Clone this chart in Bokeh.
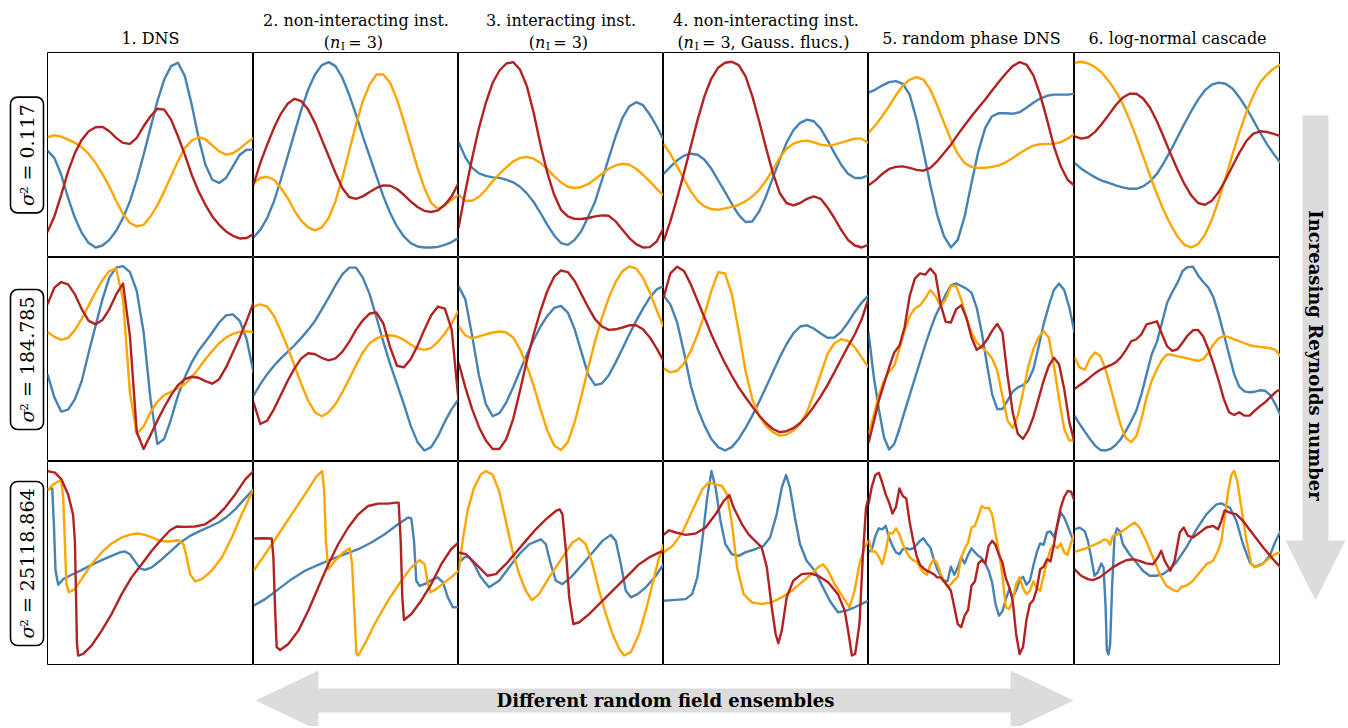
import numpy as np
from bokeh.plotting import figure
from bokeh.layouts import row, column
from bokeh.models import Range1d, BoxAnnotation
from bokeh.embed import file_html
from bokeh.resources import INLINE
from bokeh.core.properties import value

# ---------------- data (signal value in each panel, 0..100 scale) ----------------
# Row 1: sigma^2 = 0.117 (31 evenly spaced samples)
r1c1_b = [53.3,49.7,41.3,29.7,19.7,12.2,7.2,5,6,8.8,13.3,19.7,28,38.8,51.3,64.7,78,88.8,95.5,97.2,90.5,76.3,59.7,46.3,38.8,37.2,39.7,45.5,51.3,53.8,53.8]
r1c1_o = [60,61,60.3,58.8,57.2,55,51.7,47.2,41.7,35.5,28.3,21.7,17.2,15.5,16.3,20.5,26,33,40.5,48,54.7,58.3,60,59,56,53,51.3,52,54.3,57.2,59.7]
r1c1_r = [12.7,20.5,31.3,43,52.2,58.8,63,65,65.2,63,59.7,57.2,56.7,59.7,65.5,70.5,74.2,73.8,68.8,60.5,51.3,41.3,33,26.3,20.5,16.3,13,10.8,9.5,9.7,11.7]
r1c2_b = [10,13.8,19.7,28,38.8,50.5,62.2,73.8,83.8,91.3,96,97.5,95.5,89.7,81.3,71.3,60.5,50.5,40.5,30.5,22.2,15.5,10.5,7.2,5.5,5,5,5.3,6.3,7.7,9.7]
r1c2_o = [37.2,39.7,40.3,38.8,34.7,29.7,23.3,18.3,15,13.5,15,19.7,28,39.7,53,66.3,78,86.3,91.3,91.3,87.2,78.8,68,56.3,44.7,34.7,27.2,24.3,26,28.8,31.3]
r1c2_r = [36.3,47.2,56.3,64.7,71.7,76.7,79.2,78,73.8,67.2,58.8,50.5,42.2,34.7,30.2,29.3,30.5,32.7,34.7,36,35.8,34.2,31.3,28,25.2,23.3,22.7,23.5,26.3,30.5,37.2]
r1c3_b = [57.7,50,44.7,42,40.7,40,39.7,38.8,37.5,35.3,32,27.7,22.2,16.3,11,7.2,6.3,8.8,13.3,20.5,28,38.8,49.7,60.5,69.7,75.5,77.5,76,71.3,65.5,58.8]
r1c3_o = [31.3,28.3,28.3,30.3,33.8,38,41.7,45,48,49.7,50.2,49.3,47.2,44.3,40.5,37.5,35.3,34.7,35.2,36.7,39.2,41.8,44.3,46,46.8,46.3,44.3,41.3,38,34.3,31]
r1c3_r = [14.7,33,49.7,64.7,77.2,87.2,93.3,96.8,97.5,93.8,85.5,72.2,56.3,42.2,31.3,23.8,20.5,19.3,19.2,19.7,20.5,21,20.8,18,13.8,9.7,6.7,5,5.2,8,14.7]
r1c4_b = [41.7,45.2,48.5,50.8,51.8,51.3,48.8,44.3,38.5,32.7,26.7,21.3,17.7,18,23,30.5,39.7,48.8,57.2,63.5,67.2,68.8,68,64.3,58.5,52.2,46.3,41.8,39.7,39.7,41]
r1c4_o = [56.7,51.7,45.5,39.2,33,28.3,25.5,24.2,23.8,24.5,25.3,26.3,28,30.5,33.8,38.3,43.8,49.7,54.3,56.8,58,58.3,57.5,56.3,55.8,56.3,57.3,58.3,59.3,59.3,57.2]
r1c4_r = [8,18,29.7,42.2,55.5,68.8,80.5,89.3,94.7,97.2,97.7,96,90.5,80.5,68,54.7,42.2,32.2,27.2,26,27.2,29.3,30.5,29.3,25,19.7,13.8,8.8,6,5,6.3]
r1c5_b = [82.2,83.8,85.8,87.5,88,86.7,81.3,68.8,53,36.3,21.3,10.5,5,8.8,20.5,37.2,53,64.7,70.5,72,72,71.7,72.5,74.7,77.2,79.3,80.7,81.3,81.3,81.3,81.7]
r1c5_o = [62.2,66,70.5,75.5,81,85.8,88.8,90,88.8,83.8,76,67.2,58.8,51.7,47.2,45.2,44.7,44.8,45.2,46,47.5,49.7,52,54,55.8,56.5,56.7,56.8,57.5,59.3,61.7]
r1c5_r = [36,38.5,41.7,44.2,45.2,45.5,44.7,43.7,43.3,44.7,48,52.2,56.3,61.3,66,70.5,74.7,78.8,83.3,87.7,91.8,95.5,97.5,96.3,91,81.3,68.8,55.5,45.5,38.8,35.8]
r1c6_b = [47.2,44.3,42,40,38.3,37.2,36,35,34.3,34.3,35.5,38,41.7,47.2,53.3,60,66.7,73,78.8,83.5,86.3,87.3,86.7,84.3,80,74.7,68.8,62.5,56.7,51.7,47.2]
r1c6_o = [97.2,97.7,96.8,95,92.2,88,83,76.7,68.8,60,50.5,40.8,31.7,23.3,16.3,10.5,6.3,5,6.7,11.3,18.8,28.8,39.7,51.3,62.2,72.2,80.5,87.2,91.3,94.3,96.3]
r1c6_r = [60.5,59.3,60,62.7,66.7,71.3,76,79.7,81.7,81.7,79.3,74.7,68,60,51.7,43.8,36.7,31,27.2,26.3,28.3,32.7,38.8,45.5,52.2,58,61.7,63,62.7,61.7,60.5]

# Row 2: sigma^2 = 184.785
r2c1_b = [43.8,32.2,25,26,31.3,40.5,54.7,68,81.3,92.2,97.2,98,95,85.5,64.7,31.3,8.8,11.3,21.3,33,42.2,49.7,55.5,60,64.7,69.7,73.3,73.8,70.5,61.3,44.7]
r2c1_o = [65,62.5,61,62,66,71.7,78.3,85,91,95.5,96.7,81.3,34.7,13.8,17.7,24.7,30,33.3,35,36.7,38.8,42.2,46.7,51.3,55.5,59.3,62.2,64,65,65.3,64.7]
r2c1_r = [78.8,87.2,90,88.8,83.8,76.3,70.5,68.8,71,76.3,83.8,89.2,63,14.7,6.3,13.3,20.5,27.2,33.3,38.3,41.3,42.5,42,40.3,39,41.3,47.2,54.7,62.2,70.5,79.7]
r2c2_b = [33,38.8,43.8,48,51.7,55,58.3,62,66,70.5,76.3,82.2,88.3,93.8,97.2,97.2,92.2,83.8,72.2,60,48.8,38.8,28.8,18,9.7,5.5,7.2,12.7,20,26.3,31.3]
r2c2_o = [77.7,78.8,77.7,73,65.5,57.2,48,38.8,30.5,24.7,22.7,24.7,28.8,34.7,41.3,48.3,54.7,59.3,61.7,63,63.3,62.7,61,58.7,56.7,56,57,60,64.2,69.3,75.5]
r2c2_r = [29.7,18.8,20.5,26.3,33.3,40.5,46.7,51.7,54.3,53.8,52,50.7,51.7,55,60,66,70.8,74.2,74.7,69.2,57.2,48,47.2,51.3,58,66,73.3,77.7,76.7,66.3,30.5]
r2c3_b = [88,81.3,63,43,28.8,22.7,24.3,29.7,37.2,45.5,53.5,61,67.7,73,77,78,74.7,66.3,54.7,43.3,38.3,39.2,43.3,49.7,56.7,63.8,70.5,76.7,82.2,86.3,88]
r2c3_o = [67.7,63.3,61.7,62.7,63.8,64.7,65.2,64.7,62.2,56.3,48,38,26.3,15.5,8,5.8,9.7,19.7,33,47.2,60.5,72.2,82.2,90,95.5,97.8,96.7,92.2,84.7,76,67.7]
r2c3_r = [49.7,37.2,26.3,17.2,10.5,6.3,6.3,11.3,21.3,35.5,50.5,63.8,75.5,85.5,92.7,95.8,95,90.5,83.8,77.2,71.3,67.7,66,66.3,67.2,68.3,68.3,66.3,62.2,56.7,50.5]
r2c4_b = [83.3,78.8,69.7,54.7,38,26.3,18,11.3,7.2,5.5,7.2,11.3,16.7,23,30,37.2,44.7,52.2,58.8,64.3,67.7,68.3,66.7,64.2,62,62.2,65,69.7,75,79.7,83.3]
r2c4_o = [46.7,44.7,45.5,49.3,55.5,63.8,73.8,85.5,95,94.3,83.8,65.5,45.5,31.3,23,17.7,14.7,13,13.5,15.5,18.8,25,33.8,43.8,53.8,59.3,61.3,60.5,57.2,52.2,47.2]
r2c4_r = [82.2,94.3,97.7,95.5,88.8,80.5,72.2,63.8,56.3,49.3,43,37.2,32.2,27.5,23,19.3,16.3,14.7,15.2,16.7,19.3,23,27.5,32.7,38.3,44.7,51.3,57.7,63.8,71.3,81.7]
r2c5_b = [64.7,43,26.3,12.2,6,8.8,16.3,25,33.3,41.7,50,58.3,66,73,78.3,83.8,88.3,89.3,88,86.7,84.7,77.2,64.7,48.8,33.8,26.3,26.3,30.5,35,37.2,38.3,40.5,46.3,57.2,68.8,78,86,89.2,86,77.2,64.7]
r2c5_o = [13.8,23,33,40.5,45,48,56.3,65.5,73,76.7,78.3,81.7,86,83,78,81.3,88,88,81.3,72.2,64.7,59.7,57.2,55,51.7,45.5,33,20.5,16.7,23,34.7,47.2,56.3,62.2,65.5,62.2,48,31.3,16.3,10.5,10.5]
r2c5_r = [9.3,19.7,30.5,38.8,47.2,54.7,58,67.2,83,91.7,94.3,93.7,96.8,93.8,78.8,70,69.7,76.3,78.3,72.2,62.2,56,57.7,61,65.5,69,64.7,43,24.7,13.8,11.3,15.5,22.2,31.3,40.5,48,52,48.8,36.3,19.7,9.7]
r2c6_b = [23,18.8,15,11.3,8,5.8,5.5,6.3,8.3,11.3,15.5,20.2,25.5,33.8,43.8,53.8,60,69.7,79.7,85,89.7,95.5,97.5,97.7,93.3,90,87.2,82.2,73.8,63.8,53.8,43.8,37.5,35.2,34.7,35,35.7,35.5,33.3,28.8,23]
r2c6_o = [52.2,47.2,46,51.7,54.7,53,46.3,37.2,27.2,18,11.7,9.7,12.7,21.3,32.2,40.5,46.3,51,53.7,53.5,52.7,52.2,51.7,51,50.5,51.3,54.7,58.8,61.8,63,62.2,61.3,60.3,59.3,58.3,57.8,57.5,57.2,56.8,56,52.7]
r2c6_r = [36.3,38.3,40,42.2,44.3,46,47.2,48.3,49.7,52.2,56,60.3,61.3,63.8,68.8,69.5,70.3,63.8,57.7,55.5,56.3,59.7,63.3,65.8,66,62.7,56.3,48.8,40.5,31.3,24.7,23.3,24.7,23,23,25.5,27.7,29.7,32.2,34.7,36.3]

# Row 3: sigma^2 = 25118.864 (explicit sample positions where the field is shock-like)
r3c1_b_x = [0,2.3,3.1,3.9,5.2,7.6,11.7,16.5,21.4,26.3,31.1,35.2,37.6,40,42.5,44.9,47.3,50.6,54.6,59.5,64.3,69.2,74.1,78.9,83,87,91.1,95.9,100]
r3c1_b = [88.3,88.8,70.8,47.5,40.5,43.3,45.5,47.8,50.5,52.8,55,56.7,57.2,55.8,52.2,48.7,48,49.2,52.5,57,61.5,65,67.5,69.7,71.7,74.5,78.3,83.8,88.3]
r3c1_o_x = [0,2.8,5.5,6.8,7.6,8.4,9.2,10.4,13.3,16.5,21.4,26.3,31.1,36,40.8,44.1,47.3,50.6,54.6,58.7,63.5,66,67.6,69.2,71.6,74.9,79.7,84.6,89.5,94.3,98.4,100]
r3c1_o = [87.8,90.8,92.5,92.2,84.2,62.5,40.8,36.7,38.3,43.3,50.8,56.7,61.2,64.2,65.8,66.2,65.5,64.2,62.5,62.2,62.8,60.8,54.2,45.8,42.2,43.3,47.5,54.2,64.2,75.8,85,88.3]
r3c1_r_x = [0,3.6,6.8,10,12.4,13.3,13.8,14.3,14.9,17.3,21.4,26.3,31.1,36,40.8,45.7,50.6,55.4,59.5,62.7,66.8,71.6,76.5,81.4,86.2,91.1,96,100]
r3c1_r = [97.5,96.7,93.3,85.8,75.8,62.5,37.5,10.8,5,5.8,10,17.5,25.8,35.8,44.2,50.8,57.5,63.3,67.8,69.7,69.5,69.7,70.8,74.2,79.2,85.8,93.3,97.5]
r3c2_b_x = [0,5.7,12.2,18.6,25.1,31.6,38.1,44.6,51.1,57.5,64,70.5,75.4,77,78.3,79.4,81,83.5,86.7,89.9,92.4,94.8,97.2,100]
r3c2_b = [30,33.3,38.3,43.3,47.5,50.5,53.3,55.8,58.3,61.7,65.8,70.8,74.2,73.8,62.5,42.5,40,40.8,42.8,44.2,41.7,34.2,29.2,29.2]
r3c2_o_x = [0,5.7,12.2,18.6,25.1,30.8,33.5,34.5,35.3,36.5,39.7,43.8,47,48.1,49.1,50.2,51.1,54.3,59.1,65.6,72.1,77,81,83.5,85.1,86.4,89.1,93.2,96.4,100]
r3c2_o = [47.5,55.8,65.8,75.8,85.8,95,97.5,87.5,62.5,48.3,52.5,56.7,58.8,50.8,29.2,5.8,5,10.8,20.8,32.5,42.5,49.2,52.8,50.8,40.8,36.7,38.3,41.7,44.2,47.5]
r3c2_r_x = [0,4.1,8.9,9.7,10.5,11.3,13,17,21.9,26.7,31.6,36.5,41.3,46.2,51.1,55.9,60.8,65.6,69.7,70.8,71.8,72.6,73.4,77,81.8,86.7,91.6,96.4,100]
r3c2_r = [63.7,63.8,63.7,54.2,29.2,9.2,7.8,10.8,17.5,27.5,39.2,50.8,60.8,69.2,75.8,80,81.2,81.2,81.7,81.7,62.5,34.2,22.8,25.8,32.5,40.8,50.8,58.3,61.7]
r3c3_b_x = [0,2.8,5.2,7.6,10.9,14.9,19.8,24.7,29.6,34.5,40.2,42.6,45,47.5,50.7,54.8,60.5,65.4,70.2,74.3,76.7,79.2,81.6,84.1,87.3,91.4,96.3,100]
r3c3_b = [51.2,54.2,54.5,50.8,44.2,39.2,42.5,49.2,55.8,60.8,63.3,60.8,50.8,42.5,40.8,44.2,50.8,56.7,62.5,65.5,62.5,50.8,37.5,34.2,35.8,39.2,45,50.8]
r3c3_o_x = [0,2,4.4,7.6,10.9,13.3,16.6,19.8,23.1,26.3,29.6,32.8,35.8,39.3,44.2,50.7,55.6,58.9,62.1,65.4,68.6,71.9,75.1,78.4,80.8,84.1,88.1,92.2,95.4,97.9,100]
r3c3_o = [46.7,62.5,77.5,89.2,95.8,97.5,95.8,87.5,72.5,57.5,45.8,37.5,32.8,35.8,44.2,54.2,61.7,63.8,60.8,50.8,37.5,25.8,15.8,8.3,5,6.7,15.8,30.8,44.2,54.2,60.8]
r3c3_r_x = [0,3.6,8.5,14.1,18.2,23.1,28,32.8,37.7,42.6,47.5,49.4,50.7,52.4,54,56,58.9,63.7,68.6,73.5,78.4,83.3,88.1,93,97.9,100]
r3c3_r = [56.7,55.8,50.8,45,45.8,50.8,56.7,62.5,68.3,73.3,77.5,78.3,75.8,57.5,34.2,20.8,21.7,25.8,30.8,35.8,40.8,45.8,50.8,54.2,56.7,57.2]
r3c4_b_x = [0,4.4,10.8,14,16.5,18.9,21.3,23.4,25.4,27.8,30.2,33.4,36.7,39.9,44.7,48.8,52,55.2,57.7,59.8,61.7,64.1,66.6,69.8,73.8,77,81.1,85.1,89.2,93.2,96.4,100]
r3c4_b = [32.5,32.8,33.3,35.8,44.2,62.5,84.2,97.5,89.2,72.5,60.8,55.8,55,56.7,58.3,60,64.2,75.8,89.2,95.5,89.2,74.2,60.8,52.5,47.5,40.8,32.5,26.7,27.5,29.2,30.8,32.5]
r3c4_o_x = [0,4.4,9.2,14,18.9,22.1,25.4,28.6,31,33.4,35.9,39.1,43.1,47.9,52.8,57.7,62.5,67.4,72.2,75.4,77.9,80.3,83.5,87.6,90.8,93.2,95.6,98.1,100]
r3c4_o = [56.7,60,66.7,77.5,88.3,91.7,90.8,90,85.8,70.8,49.2,35.8,31.7,30.8,31.7,34.2,37.5,41.7,45.8,49.2,50.8,47.5,40.8,34.2,29.2,37.5,50.8,59.2,62.5]
r3c4_r_x = [0,2.7,6,10.8,15.7,20.5,25.4,29.4,32.1,34.2,38.3,41.5,44.7,47.9,50.4,52.8,54.7,56,57.7,60.1,63.3,67.4,71.4,75.4,80.3,85.1,88.4,90.3,91.9,93.5,95.6,97.2,98.8,100]
r3c4_r = [65.5,67.8,66.7,65.5,66.2,69.2,75.8,82.5,85.5,79.2,70.8,65.8,62.5,59.2,49.2,29.2,15.8,11.2,17.5,34.2,42.5,45.8,46.2,45,41.7,35.8,27.5,15.8,5,5.8,20.8,54.2,79.2,84.2]
r3c5_b = [56.7,58.3,65,68.8,68.3,70,64.2,60,56.7,55.8,58.3,58.8,58.2,58.8,60.5,62.5,63.8,61.2,59.2,53.3,48.3,45,42.5,42.2,49.5,45.5,49.2,54.2,51.2,55.5,58.8,56.7,55,53.8,51.2,47.5,41.7,30.8,25,27.2,33.3,38.3,34.5,37.5,42.8,44.5,40.5,42.5,50,56.7,61.2,60.5,66.7,67.2,64.5,70,76.7,74.2,70,65.5,61.2]
r3c5_o = [63.3,57.2,57.2,54.5,50.8,57.2,66.5,66.2,68.8,65.8,60.8,57.2,54.2,52.8,52.2,49.2,46.7,45.5,50.5,53.3,51.2,46.2,42.2,39.5,40.8,42.8,44.5,54.2,58.3,61.7,69.2,70,75,80,78.8,79.2,75.8,66.2,56.7,45,29.2,28.3,32.5,40.8,44.2,38.8,35.8,37.5,42.2,38.8,37.5,45,52.5,58.3,60.5,58.8,61.2,56.7,55.5,61.7,65.8]
r3c5_r = [80.8,90,95.5,96.7,91.7,85.8,81.7,76.2,79.5,88.8,85,83.8,71.7,62.8,55,50.5,48.8,47.5,46.8,45.8,44.2,44.2,42.2,40,37.5,29.2,20.8,19.2,25,27.8,40,42.2,51.2,52.8,51.2,60,62.5,60.5,55.5,51.7,43.8,39.2,32.5,15.8,5.8,9.2,22.8,30.8,32.8,38.3,48.3,49.5,53.3,52.2,60.5,70.8,79.2,84.5,87.5,87.2,82.5]
r3c6_b_x = [0,2.4,4.9,6.5,8.1,9.7,11.3,13,14.1,15.1,15.7,16.5,17.3,18.3,19.4,20.6,21.9,23.5,26.7,30,33.2,36.5,39.7,42.9,46.2,49.4,54.3,59.2,64,68.9,71.3,75.4,78.6,81.8,85.1,87.5,91.6,94.8,97.3,100]
r3c6_b = [68.3,69.2,67.5,62.5,54.2,45,46.7,51.2,49.2,29.2,7.5,5.5,10.8,40.8,64.2,68.8,67.5,60.8,55.8,51.7,47.5,45,45,45.8,48.3,51.7,59.2,68.3,75.8,80.8,81.3,79.2,72.5,60.8,51.7,49.5,51.2,55,61.7,67.5]
r3c6_o_x = [0,5.7,12.2,14.6,16.2,17.3,18.6,20.3,23.5,26.7,29.2,31.6,34.8,38.1,41.3,44.6,47.8,50.2,51.9,54.3,57.5,60.8,64,67.3,69.7,71.3,72.9,74.6,76.2,77.5,79,81,83.5,85.9,87.5,90.8,94,97.2,100]
r3c6_o = [57,58.8,61.7,63.3,62.5,60.5,65,65.5,67.5,70,71.7,69.2,62.5,54.2,45.8,40,37.8,37.2,39.5,40,42.5,46.7,50.8,52.5,57.5,62.5,74.2,87.5,95.8,97.5,92.5,79.2,62.5,50.8,49.2,50.5,53.3,55.8,56.7]
r3c6_r_x = [0,3.2,6.5,8.9,12.2,15.4,18.6,21.9,25.1,28.4,31.6,34.8,38.1,40.5,42.1,43.8,46.5,48.6,51.1,53,55.1,57.5,60.8,64,67.3,69.7,71.3,72.9,75.4,78.6,81.8,86.7,91.6,96.4,100]
r3c6_r = [48.3,45,43.3,42.8,44.2,46.7,49.2,51.2,52.8,53.3,52.5,51.2,50.8,54.2,57.5,52.5,47.5,52.5,66.7,69.2,65,64.2,66.7,69.2,70,68.3,72.5,77.8,76.7,75.8,72.5,65.8,59.2,53.3,49.2]

titles = ["1. DNS", "2. non-interacting inst.", "3. interacting inst.",
          "4. non-interacting inst.", "5. random phase DNS", "6. log-normal cascade"]
subtitle_tails = [None, " = 3)", " = 3)", " = 3, Gauss. flucs.)", None, None]
sigma_values = ["0.117", "184.785", "25118.864"]
right_label = "Increasing Reynolds number"
bottom_label = "Different random field ensembles"

# ---------------- styling / layout ----------------
SERIF = value("DejaVu Serif")
COLORS = ["#4682b4", "#ffa500", "#b22222"]
COL_W = [206, 205, 205, 205, 206, 206]
ROW_H = [205, 204, 204]
GRID_X0, GRID_Y0 = 47, 52
PAGE_W, PAGE_H = 1346, 726
ARROW = "#dcdcdc"

PANELS = [
    [[(None, r1c1_b), (None, r1c1_o), (None, r1c1_r)],
     [(None, r1c2_b), (None, r1c2_o), (None, r1c2_r)],
     [(None, r1c3_b), (None, r1c3_o), (None, r1c3_r)],
     [(None, r1c4_b), (None, r1c4_o), (None, r1c4_r)],
     [(None, r1c5_b), (None, r1c5_o), (None, r1c5_r)],
     [(None, r1c6_b), (None, r1c6_o), (None, r1c6_r)]],
    [[(None, r2c1_b), (None, r2c1_o), (None, r2c1_r)],
     [(None, r2c2_b), (None, r2c2_o), (None, r2c2_r)],
     [(None, r2c3_b), (None, r2c3_o), (None, r2c3_r)],
     [(None, r2c4_b), (None, r2c4_o), (None, r2c4_r)],
     [(None, r2c5_b), (None, r2c5_o), (None, r2c5_r)],
     [(None, r2c6_b), (None, r2c6_o), (None, r2c6_r)]],
    [[(r3c1_b_x, r3c1_b), (r3c1_o_x, r3c1_o), (r3c1_r_x, r3c1_r)],
     [(r3c2_b_x, r3c2_b), (r3c2_o_x, r3c2_o), (r3c2_r_x, r3c2_r)],
     [(r3c3_b_x, r3c3_b), (r3c3_o_x, r3c3_o), (r3c3_r_x, r3c3_r)],
     [(r3c4_b_x, r3c4_b), (r3c4_o_x, r3c4_o), (r3c4_r_x, r3c4_r)],
     [(None, r3c5_b), (None, r3c5_o), (None, r3c5_r)],
     [(r3c6_b_x, r3c6_b), (r3c6_o_x, r3c6_o), (r3c6_r_x, r3c6_r)]],
]


def panel(w, h, curves):
    p = figure(width=w, height=h, x_range=Range1d(0, 100), y_range=Range1d(0, 102.3),
               toolbar_location=None, output_backend="svg", x_axis_type=None,
               y_axis_type=None, min_border=0)
    p.outline_line_color = "black"
    p.outline_line_width = 1
    p.background_fill_color = "white"
    p.border_fill_color = "white"
    for (xs, ys), col in zip(curves, COLORS):
        if xs is None:
            xs = np.linspace(0, 100, len(ys))
        p.line(xs, ys, line_color=col, line_width=2.4, line_join="round")
    return p


def deco(w, h, x0, x1, ytop, ybot):
    p = figure(width=w, height=h, x_range=Range1d(x0, x1), y_range=Range1d(ybot, ytop),
               toolbar_location=None, output_backend="svg", x_axis_type=None,
               y_axis_type=None, min_border=0)
    p.outline_line_color = None
    p.background_fill_color = "white"
    p.border_fill_color = "white"
    return p


col_edges = np.concatenate([[GRID_X0], GRID_X0 + np.cumsum(COL_W)])
row_edges = np.concatenate([[GRID_Y0], GRID_Y0 + np.cumsum(ROW_H)])
col_centers = (col_edges[:-1] + col_edges[1:]) / 2
row_centers = (row_edges[:-1] + row_edges[1:]) / 2
grid_right = int(col_edges[-1])
grid_bottom = int(row_edges[-1])

# ---- top titles ----
top = deco(PAGE_W, GRID_Y0, 0, PAGE_W, 0, GRID_Y0)
for i, t in enumerate(titles):
    cx = col_centers[i]
    tail = subtitle_tails[i]
    y1 = 38 if tail is None else 20
    top.text(x=[cx], y=[y1], text=[t], text_font=SERIF, text_font_size="16px",
             text_align="center", text_baseline="alphabetic", text_color="black")
    if tail is not None:
        tail_w = 40 if len(tail) < 8 else 152.6
        a = cx - (16.4 + 8 + tail_w) / 2 + 16.4
        yb = 42
        top.text(x=[a - 10.2], y=[yb], text=["("], text_font=SERIF, text_font_size="16px",
                 text_align="right", text_baseline="alphabetic")
        top.text(x=[a], y=[yb], text=["n"], text_font=SERIF, text_font_size="16px",
                 text_font_style="italic", text_align="right", text_baseline="alphabetic")
        top.text(x=[a + 0.5], y=[yb + 3.5], text=["I"], text_font=SERIF, text_font_size="11px",
                 text_align="left", text_baseline="alphabetic")
        top.text(x=[a + 8], y=[yb], text=[tail], text_font=SERIF, text_font_size="16px",
                 text_align="left", text_baseline="alphabetic")

# ---- left row labels ----
left = deco(GRID_X0, grid_bottom - GRID_Y0, 0, GRID_X0, GRID_Y0, grid_bottom)
FS = 19
for i, sv in enumerate(sigma_values):
    cy = row_centers[i]
    w_sig = 0.62 * FS
    w_rest = (0.4 + 0.318 + 0.838 + 0.318 + sum(0.318 if ch == "." else 0.636 for ch in sv)) * FS
    W = w_sig + w_rest
    y_start = cy + W / 2
    box = BoxAnnotation(left=10, right=43, bottom=y_start + 7, top=y_start - W - 7,
                        fill_color="white", fill_alpha=1, line_color="black",
                        line_alpha=1, line_width=1.6, border_radius=7, level="underlay")
    left.add_layout(box)
    left.text(x=[26.5], y=[y_start], text=["σ"], angle=np.pi / 2, text_font=SERIF,
              text_font_size=f"{FS}px", text_font_style="italic", text_align="left",
              text_baseline="middle")
    left.text(x=[26.5], y=[y_start - w_sig], text=["² = " + sv], angle=np.pi / 2,
              text_font=SERIF, text_font_size=f"{FS}px", text_align="left",
              text_baseline="middle")

# ---- right arrow ----
right = deco(PAGE_W - grid_right, grid_bottom - GRID_Y0, grid_right, PAGE_W, GRID_Y0, grid_bottom)
right.patch([1302, 1328, 1328, 1345, 1315, 1285, 1302],
            [115, 115, 540, 540, 600, 540, 540], fill_color=ARROW, line_color=None)
right.text(x=[1315], y=[355], text=[right_label], angle=-np.pi / 2, text_font=SERIF,
           text_font_size="18px", text_font_style="bold", text_align="center",
           text_baseline="middle")

# ---- bottom arrow ----
bottom = deco(PAGE_W, PAGE_H - grid_bottom, 0, PAGE_W, grid_bottom, PAGE_H)
bottom.patch([255, 318, 318, 1010, 1010, 1073, 1010, 1010, 318, 318],
             [700, 670, 688, 688, 670, 700, 730, 712, 712, 730],
             fill_color=ARROW, line_color=None)
bottom.text(x=[665], y=[700], text=[bottom_label], text_font=SERIF, text_font_size="18px",
            text_font_style="bold", text_align="center", text_baseline="middle")

# ---- grid of panels ----
grid_rows = []
for r in range(3):
    grid_rows.append(row(*[panel(COL_W[c], ROW_H[r], PANELS[r][c]) for c in range(6)]))
grid = column(*grid_rows)

layout = column(top, row(left, grid, right), bottom)
open("out.html", "w").write(file_html(layout, INLINE, title="ensembles"))
